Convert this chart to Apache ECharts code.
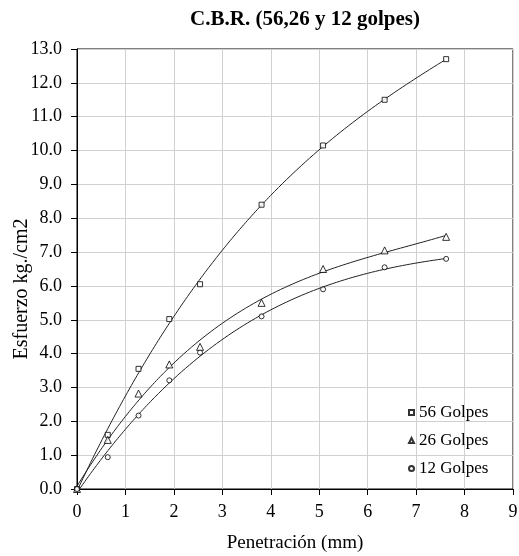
<!DOCTYPE html>
<html>
<head>
<meta charset="utf-8">
<script src="https://cdn.jsdelivr.net/npm/echarts@6/dist/echarts.min.js"></script>
<style>
  html, body { margin: 0; padding: 0; background: #fff; }
  #chart { width: 519px; height: 556px; }
</style>
</head>
<body>
<div id="chart"></div>
<script>
// penetracion (mm) y esfuerzo (kg/cm2)
let penetracion = [0, 0.635, 1.27, 1.905, 2.54, 3.81, 5.08, 6.35, 7.62];
let golpes56 = [0, 1.6, 3.55, 5.02, 6.05, 8.4, 10.15, 11.5, 12.7];
let golpes26 = [0, 1.45, 2.82, 3.68, 4.2, 5.5, 6.5, 7.05, 7.45];
let golpes12 = [0, 0.94, 2.17, 3.21, 4.03, 5.1, 5.9, 6.55, 6.8];
let nombres = ['56 Golpes', '26 Golpes', '12 Golpes'];
let simbolos = ['rect', 'triangle', 'circle'];

let serif = '"Liberation Serif", "Times New Roman", serif';

function pares(ys) {
  return penetracion.map(function (x, i) { return [x, ys[i]]; });
}

// linea de tendencia polinomica (minimos cuadrados) como en la hoja de calculo
function tendencia(ys, orden) {
  let n = orden + 1;
  let A = [];
  for (let r = 0; r < n; r++) {
    A.push([]);
    for (let c = 0; c <= n; c++) A[r].push(0);
  }
  penetracion.forEach(function (x, i) {
    for (let r = 0; r < n; r++) {
      for (let c = 0; c < n; c++) A[r][c] += Math.pow(x, r + c);
      A[r][n] += ys[i] * Math.pow(x, r);
    }
  });
  for (let k = 0; k < n; k++) {
    for (let r = k + 1; r < n; r++) {
      let f = A[r][k] / A[k][k];
      for (let c = k; c <= n; c++) A[r][c] -= f * A[k][c];
    }
  }
  let coef = [];
  for (let r = n - 1; r >= 0; r--) {
    let s = A[r][n];
    for (let c = r + 1; c < n; c++) s -= A[r][c] * coef[c];
    coef[r] = s / A[r][r];
  }
  let xmax = penetracion[penetracion.length - 1];
  let pts = [];
  for (let x = 0; x <= xmax + 1e-9; x += 0.04) {
    let y = 0;
    for (let r = 0; r < n; r++) y += coef[r] * Math.pow(x, r);
    pts.push([x, y]);
  }
  return pts;
}

let chart = echarts.init(document.getElementById('chart'));
let datos = [golpes56, golpes26, golpes12];
let series = [];

datos.forEach(function (ys, i) {
  series.push({
    type: 'line',
    name: 'tendencia' + i,
    data: tendencia(ys, 3),
    showSymbol: false,
    silent: true,
    lineStyle: { color: '#222', width: 1 },
    z: 2
  });
});
// puntos medidos
datos.forEach(function (ys, i) {
  series.push({
    type: 'scatter',
    name: nombres[i],
    data: pares(ys),
    symbol: simbolos[i],
    symbolSize: simbolos[i] == 'triangle' ? 7 : 5,
    itemStyle: { color: '#fff', borderColor: '#000', borderWidth: 1 },
    z: 3
  });
});

chart.setOption({
  backgroundColor: '#fff',
  animation: false,
  title: {
    text: 'C.B.R. (56,26 y 12 golpes)',
    left: 300,
    textAlign: 'center',
    top: 4,
    textStyle: { fontFamily: serif, fontSize: 21, fontWeight: 'bold', color: '#000' }
  },
  legend: {
    data: nombres,
    orient: 'vertical',
    left: 403,
    top: 399,
    itemGap: 11,
    itemWidth: 5,
    itemHeight: 5,
    textStyle: { fontFamily: serif, fontSize: 17, color: '#000' }
  },
  grid: {
    left: 77, right: 6, top: 49, bottom: 67,
    outerBoundsMode: 'none',
    containLabel: false,
    show: true, borderColor: '#000', borderWidth: 1
  },
  xAxis: {
    type: 'value',
    min: 0, max: 9, interval: 1,
    name: 'Penetración (mm)',
    nameLocation: 'middle',
    nameGap: 45,
    nameMoveOverlap: false,
    nameTextStyle: { fontFamily: serif, fontSize: 19, color: '#000' },
    axisLine: { lineStyle: { color: '#000' } },
    axisTick: { show: true, length: 6, lineStyle: { color: '#000' } },
    axisLabel: { fontFamily: serif, fontSize: 18, color: '#000', margin: 14 },
    splitLine: { lineStyle: { color: '#d0d0d0' } }
  },
  yAxis: {
    type: 'value',
    min: 0, max: 13, interval: 1,
    name: 'Esfuerzo kg./cm2',
    nameLocation: 'middle',
    nameGap: 45,
    nameMoveOverlap: false,
    nameTextStyle: { fontFamily: serif, fontSize: 20, color: '#000', padding: [0, 40, 0, 0] },
    axisLine: { show: true, lineStyle: { color: '#000' } },
    axisTick: { show: true, length: 6, lineStyle: { color: '#000' } },
    axisLabel: {
      fontFamily: serif, fontSize: 18, color: '#000', margin: 15,
      formatter: function (v) { return v.toFixed(1); }
    },
    splitLine: { lineStyle: { color: '#d0d0d0' } }
  },
  series: series
});
</script>
</body>
</html>
